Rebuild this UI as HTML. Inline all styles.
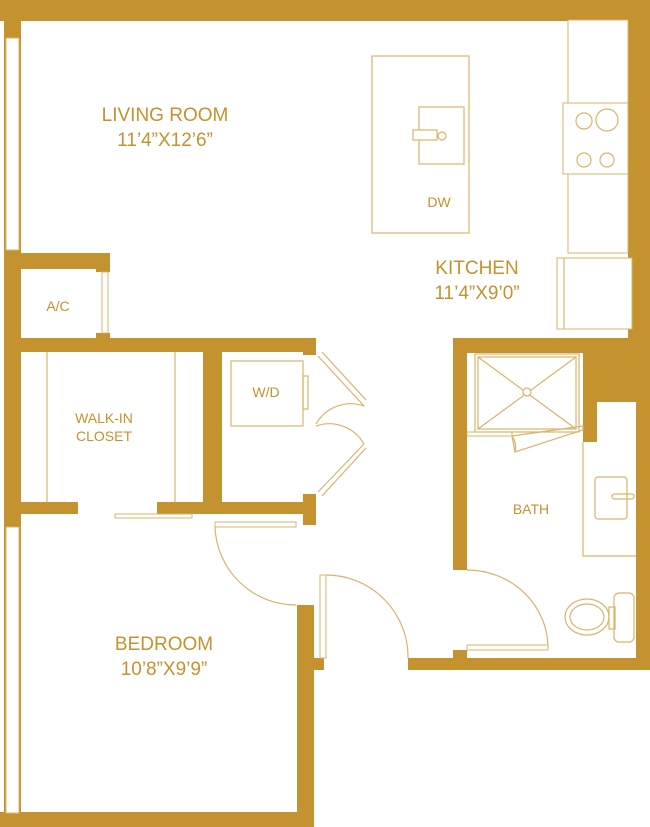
<!DOCTYPE html>
<html><head><meta charset="utf-8"><style>
html,body{margin:0;padding:0;background:#fff;}
svg{display:block}
text{font-family:"Liberation Sans",sans-serif;fill:#C4922E;text-anchor:middle}
</style></head><body>
<svg width="650" height="827" viewBox="0 0 650 827" xmlns="http://www.w3.org/2000/svg">
<g fill="#C4922E">
<rect x="0" y="0" width="650" height="21"/>
<rect x="4" y="0" width="17" height="827"/>
<rect x="628" y="0" width="22" height="340"/>
<rect x="636" y="338" width="14" height="332"/>
<rect x="408" y="658" width="242" height="12"/>
<rect x="0" y="812" width="314" height="15"/>
<rect x="297" y="605" width="17" height="222"/>
<rect x="314" y="658" width="10" height="12"/>
<rect x="4" y="253" width="106" height="16"/>
<rect x="96" y="253" width="14" height="19"/>
<rect x="96" y="333" width="14" height="6"/>
<rect x="20" y="338" width="296" height="14"/>
<rect x="303" y="338" width="13" height="17"/>
<rect x="203" y="338" width="19" height="176"/>
<rect x="157" y="502" width="159" height="12"/>
<rect x="20" y="502" width="58" height="12"/>
<rect x="303" y="494" width="13" height="31"/>
<rect x="453" y="338" width="183" height="15"/>
<rect x="453" y="338" width="14" height="232"/>
<rect x="583" y="338" width="53" height="64"/>
<rect x="583" y="338" width="14" height="104"/>
<rect x="453" y="650" width="14" height="12"/>
</g>
<g fill="#fff" stroke="#D9B46A" stroke-width="1">
<rect x="6" y="38" width="13" height="212"/>
<rect x="6" y="527" width="13" height="286"/>
<rect x="102" y="272" width="6" height="61"/>
<rect x="568" y="20" width="60" height="233"/>
<rect x="563" y="103" width="65" height="71"/>
<rect x="557" y="258" width="75" height="71"/>
<rect x="115" y="514" width="77" height="4"/>
<rect x="215" y="522" width="81" height="5"/>
<rect x="320" y="575" width="6" height="83"/>
<rect x="467" y="645" width="81" height="5"/>
<rect x="467" y="432" width="45" height="4"/>
</g>
<g fill="none" stroke="#D9B46A" stroke-width="1.2">
<line x1="564" y1="258" x2="564" y2="329"/>
<circle cx="584" cy="121" r="8"/><circle cx="607" cy="120" r="11"/>
<circle cx="584" cy="160" r="7"/><circle cx="607" cy="160" r="7"/>
<rect x="372" y="56" width="97" height="177"/>
<rect x="419" y="107" width="45" height="57"/>
<rect x="413" y="130" width="24" height="10" fill="#fff"/>
<circle cx="442" cy="136" r="4"/>
<line x1="47" y1="352" x2="47" y2="502"/>
<line x1="175" y1="352" x2="175" y2="502"/>
<rect x="231" y="361" width="72" height="65"/>
<rect x="303" y="376" width="5" height="33"/>
<path d="M318 356 L364 406 M322 352 L366 400"/>
<path d="M318 492 L364 444 M322 496 L366 448"/>
<path d="M364 406 A40 40 0 0 0 316 424"/>
<path d="M364 444 A40 40 0 0 0 316 426"/>
<path d="M215 527 A81 81 0 0 0 296 605"/>
<path d="M326 575 A82 82 0 0 1 408 658"/>
<path d="M467 570 A81 78 0 0 1 548 648"/>
<rect x="475" y="354" width="104" height="78"/>
<rect x="478" y="357" width="98" height="72"/>
<path d="M478 357 L576 429 M576 357 L478 429"/>
<circle cx="527" cy="392" r="4" fill="#fff"/>
<path d="M512 436 L583 426 L583 430 L515 452 Z"/>
<path d="M512 436 A20 20 0 0 1 515 452"/>
<path d="M583 442 L583 556 L636 556"/>
<rect x="595" y="477" width="32" height="42" rx="3"/>
<rect x="612" y="494" width="22" height="5" rx="2.5"/>
<rect x="614" y="593" width="20" height="49" rx="5"/>
<rect x="609" y="607" width="6" height="22"/>
<ellipse cx="587" cy="617" rx="22" ry="18"/>
<ellipse cx="587" cy="617" rx="17" ry="13"/>
</g>
<text x="165" y="121" font-size="19">LIVING ROOM</text>
<text x="165" y="146" font-size="19">11’4”X12’6”</text>
<text x="477" y="274" font-size="19">KITCHEN</text>
<text x="477" y="299" font-size="19">11’4”X9’0”</text>
<text x="439" y="207" font-size="14">DW</text>
<text x="58" y="311" font-size="14">A/C</text>
<text x="104" y="423" font-size="14">WALK-IN</text>
<text x="104" y="441" font-size="14">CLOSET</text>
<text x="266" y="397" font-size="14">W/D</text>
<text x="531" y="514" font-size="14">BATH</text>
<text x="164" y="650" font-size="19">BEDROOM</text>
<text x="164" y="675" font-size="19">10’8”X9’9”</text>
</svg>
</body></html>
